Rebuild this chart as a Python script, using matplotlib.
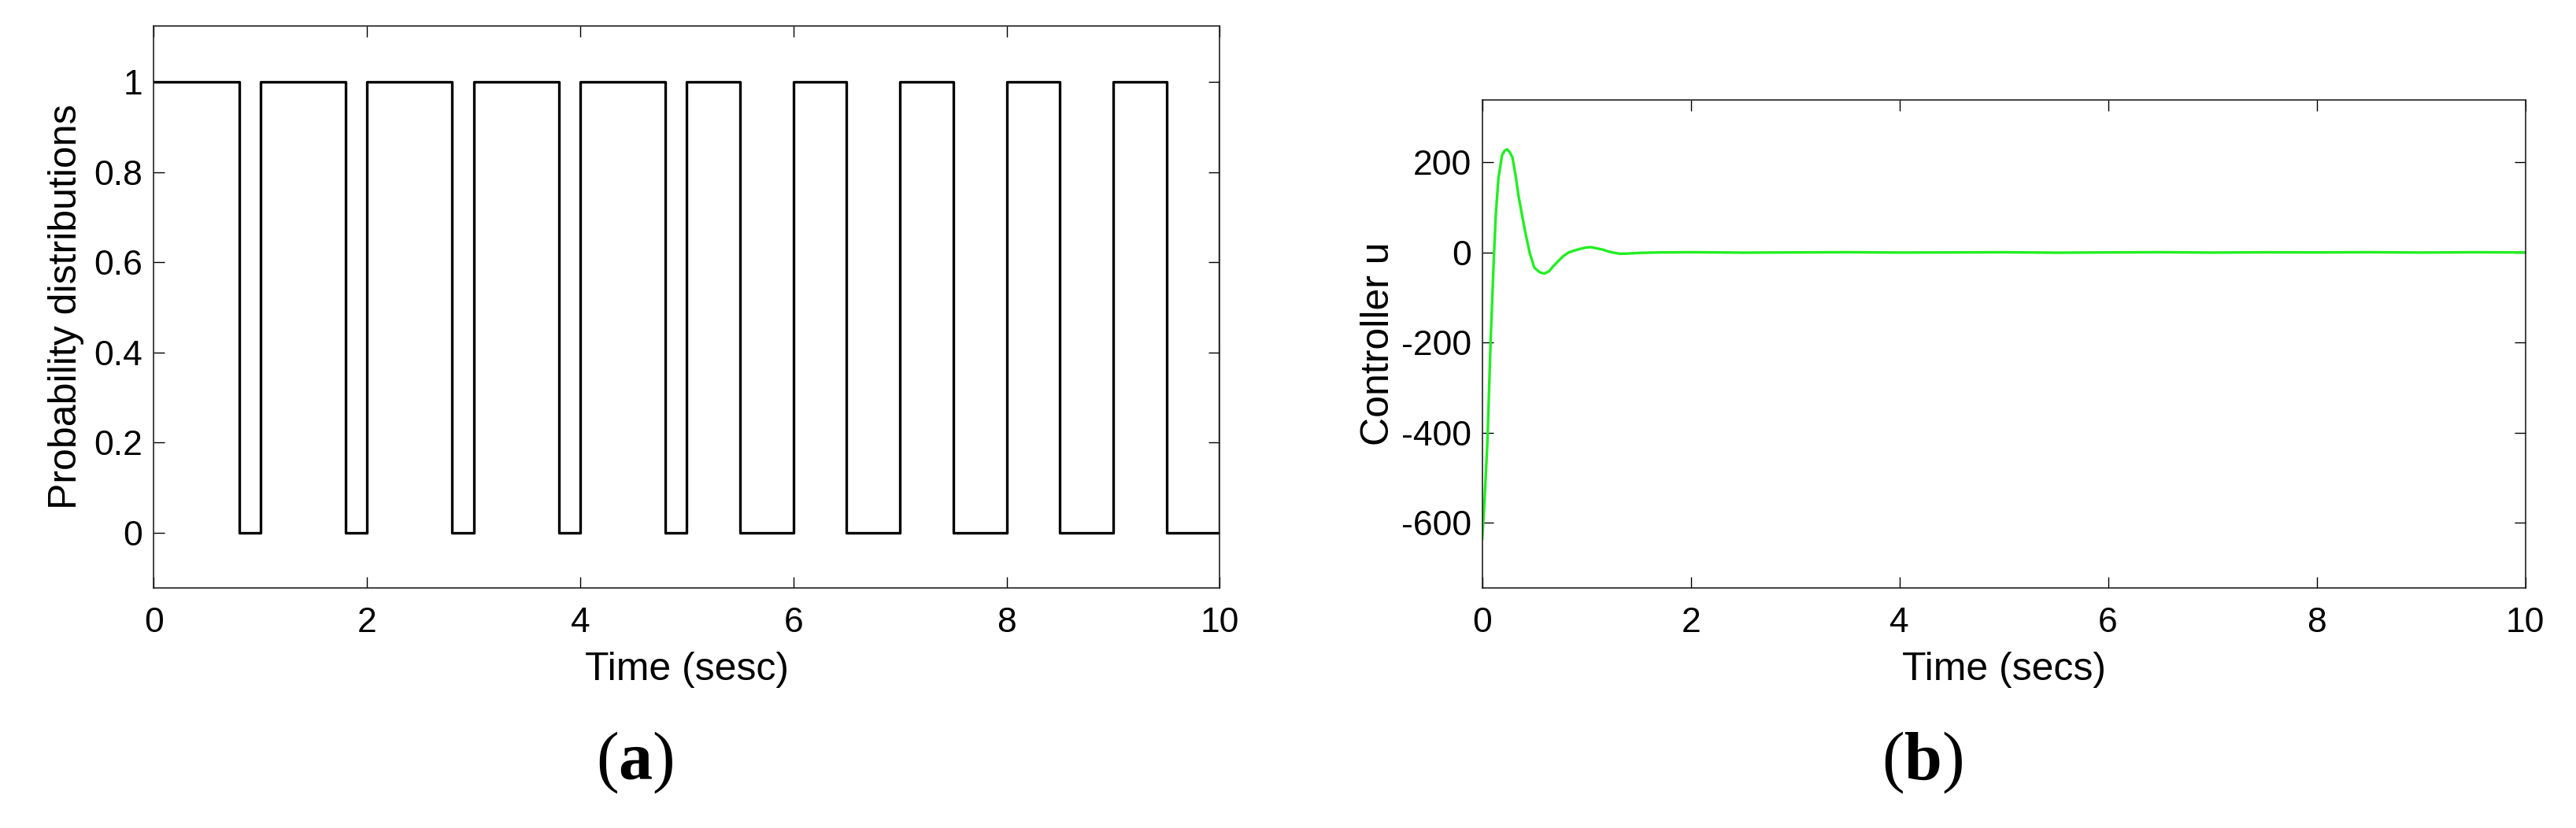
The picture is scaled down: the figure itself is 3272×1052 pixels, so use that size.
import matplotlib
matplotlib.use('Agg')
import matplotlib.pyplot as plt

plt.rcParams['font.family'] = ['Liberation Sans', 'DejaVu Sans']
plt.rcParams['axes.unicode_minus'] = False
plt.rcParams['mathtext.fontset'] = 'custom'
plt.rcParams['mathtext.rm'] = 'Liberation Serif'
plt.rcParams['mathtext.bf'] = 'Liberation Serif:bold'

# (a) switching signal: times where the level changes, and the level from there on
switch_t = [0, 0.8, 1.0, 1.8, 2.0, 2.8, 3.0, 3.8, 4.0, 4.8, 5.0, 5.5, 6.0,
            6.5, 7.0, 7.5, 8.0, 8.5, 9.0, 9.5, 10.0]
switch_level = [1, 0, 1, 0, 1, 0, 1, 0, 1, 0, 1, 0, 1, 0, 1, 0, 1, 0, 1, 0, 1]
prob_ticks = [0, 0.2, 0.4, 0.6, 0.8, 1]
prob_labels = ['0', '0.2', '0.4', '0.6', '0.8', '1']

# (b) controller output
ctrl_t = [0, 0.02, 0.05, 0.08, 0.11, 0.13, 0.155, 0.19, 0.215, 0.238, 0.265,
          0.29, 0.32, 0.35, 0.38, 0.41, 0.456, 0.50, 0.55, 0.595, 0.64, 0.68,
          0.73, 0.78, 0.83, 0.88, 0.94, 1.0, 1.04, 1.10, 1.16, 1.21, 1.26,
          1.32, 1.40, 1.51, 1.7, 2.0, 2.5, 3.0, 3.5, 4.0, 4.5, 5.0, 5.5, 6.0,
          6.5, 7.0, 7.5, 8.0, 8.5, 9.0, 9.5, 10.0]
ctrl_u = [-636, -560, -420, -200, -20, 83, 164, 216, 226, 229, 222, 211, 170,
          123, 85, 48, -2, -34, -44, -47, -42, -31, -19, -7.5, 0, 4, 8, 11,
          11.7, 9, 6, 2, -0.5, -3, -2.5, -1, 0, 0.5, -0.5, 0, 0.5, -0.3, 0,
          0.4, -0.6, 0, 0.5, -0.4, 0.3, 0, 0.5, -0.3, 0.4, 0]
ctrl_ticks = [-600, -400, -200, 0, 200]

time_ticks = [0, 2, 4, 6, 8, 10]

fig = plt.figure(figsize=(32.72, 10.52), dpi=100)
ax1 = fig.add_axes([0.0597, 0.2899, 0.4138, 0.679])
ax2 = fig.add_axes([0.5754, 0.2899, 0.4049, 0.5891])


def style(ax):
    ax.tick_params(direction='in', top=True, right=True, length=10, width=1,
                   labelsize=32, pad=10)
    ax.tick_params(axis='x', pad=17)
    for s in ax.spines.values():
        s.set_linewidth(1.2)
        s.set_color('#222222')
    ax.set_xlim(0, 10)
    ax.set_xticks(time_ticks)
    ax.set_xticklabels([str(t) for t in time_ticks])


ax1.step(switch_t, switch_level, where='post', color='black', lw=2.4)
style(ax1)
ax1.set_ylim(-0.123, 1.125)
ax1.set_yticks(prob_ticks)
ax1.set_yticklabels(prob_labels)
ax1.set_xlabel('Time (sesc)', fontsize=36, labelpad=12)
ax1.set_ylabel('Probability distributions', fontsize=36, labelpad=9)

ax2.plot(ctrl_t, ctrl_u, color='#22ee22', lw=2.4)
style(ax2)
ax2.set_ylim(-745, 338)
ax2.set_yticks(ctrl_ticks)
ax2.set_yticklabels([str(v) for v in ctrl_ticks])
ax2.set_xlabel('Time (secs)', fontsize=36, labelpad=12)
ax2.set_ylabel('Controller u', fontsize=36, labelpad=4)

fig.text(0.2463, 0.078, r'($\mathbf{a}$)', fontsize=62, ha='center', va='center',
         family='Liberation Serif')
fig.text(0.7463, 0.078, r'($\mathbf{b}$)', fontsize=62, ha='center', va='center',
         family='Liberation Serif')

fig.savefig('out.png', dpi=100)
